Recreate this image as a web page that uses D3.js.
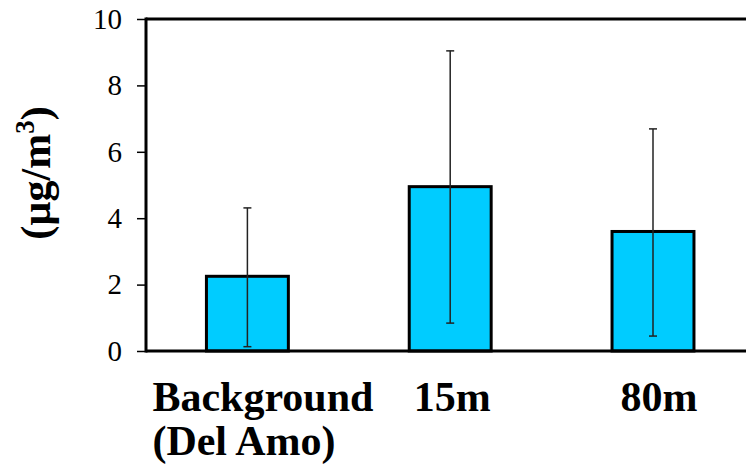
<!DOCTYPE html>
<html>
<head>
<meta charset="utf-8">
<script src="https://cdn.jsdelivr.net/npm/d3@7/dist/d3.min.js"></script>
<style>
  html, body { margin: 0; padding: 0; background: #fff; }
  svg { display: block; }
  svg text { font-family: "Liberation Serif", "Times New Roman", Times, "DejaVu Serif", serif; }
</style>
</head>
<body>
<svg id="chart" width="746" height="470"></svg>
<script>
// ---- data ----
const categories = ["Background", "15m", "80m"];
const values = [2.25, 4.95, 3.6];
const errLow = [0.13, 0.84, 0.45];
const errHigh = [4.31, 9.04, 6.69];
const yTicks = [0, 2, 4, 6, 8, 10];

const svg = d3.select("#chart");
const mLeft = 146, mTop = 19, mBottom = 351;
const plotRight = 754.4;

const x = d3.scaleBand().domain(categories).range([mLeft, plotRight])
  .paddingInner(0.596).paddingOuter(0.298);
const y = d3.scaleLinear().domain([0, 10]).range([mBottom, mTop]);

// top border of plot area
svg.append("line").attr("x1", mLeft).attr("x2", plotRight)
  .attr("y1", y(10)).attr("y2", y(10))
  .attr("stroke", "#000").attr("stroke-width", 3);

// y axis
const yAxis = d3.axisLeft(y).tickValues(yTicks).tickSize(9).tickPadding(15).tickFormat(d3.format("d"));
const gy = svg.append("g").attr("transform", `translate(${mLeft},0)`).call(yAxis);
gy.select(".domain").remove();
gy.attr("font-family", null);
gy.selectAll(".tick line").attr("stroke", "#000").attr("stroke-width", 1.5);
gy.selectAll(".tick text").attr("font-size", 29).attr("fill", "#000");
svg.append("line").attr("x1", mLeft).attr("x2", mLeft)
  .attr("y1", y(10) - 1.5).attr("y2", y(0) + 1.5)
  .attr("stroke", "#000").attr("stroke-width", 3);

// bars
svg.append("g").selectAll("rect").data(categories).join("rect")
  .attr("x", d => x(d))
  .attr("y", (d, i) => y(values[i]))
  .attr("width", x.bandwidth())
  .attr("height", (d, i) => y(0) - y(values[i]))
  .attr("fill", "#00CCFF")
  .attr("stroke", "#000").attr("stroke-width", 3);

// x axis baseline
svg.append("line").attr("x1", mLeft).attr("x2", plotRight)
  .attr("y1", y(0)).attr("y2", y(0))
  .attr("stroke", "#000").attr("stroke-width", 3);

// error bars
const eg = svg.append("g").attr("stroke", "#222").attr("stroke-width", 1.5);
categories.forEach((c, i) => {
  const cx = x(c) + x.bandwidth() / 2;
  eg.append("line").attr("x1", cx).attr("x2", cx).attr("y1", y(errHigh[i])).attr("y2", y(errLow[i]));
  eg.append("line").attr("x1", cx - 4).attr("x2", cx + 4).attr("y1", y(errHigh[i])).attr("y2", y(errHigh[i]));
  eg.append("line").attr("x1", cx - 4).attr("x2", cx + 4).attr("y1", y(errLow[i])).attr("y2", y(errLow[i]));
});

// category labels
const lg = svg.append("g").attr("font-weight", "bold")
  .attr("font-size", 42).attr("fill", "#000");
const bgx = x("Background") + x.bandwidth() / 2 - 95;
lg.append("text").attr("x", bgx).attr("y", 411).text("Background");
lg.append("text").attr("x", bgx).attr("y", 455).text("(Del Amo)");
lg.append("text").attr("x", x("15m") + x.bandwidth() / 2 + 2).attr("y", 411)
  .attr("text-anchor", "middle").text("15m");
lg.append("text").attr("x", x("80m") + x.bandwidth() / 2 + 6).attr("y", 411)
  .attr("text-anchor", "middle").text("80m");

// y axis title
const yt = svg.append("text")
  .attr("transform", `translate(50,${(y(10) + y(0)) / 2 - 12}) rotate(-90)`)
  .attr("text-anchor", "middle")
  .attr("font-weight", "bold").attr("font-size", 42).attr("fill", "#000");
yt.append("tspan").text("(µg/m");
yt.append("tspan").attr("font-size", 27).attr("dy", -16).text("3");
yt.append("tspan").attr("dy", 16).text(")");
</script>
</body>
</html>
